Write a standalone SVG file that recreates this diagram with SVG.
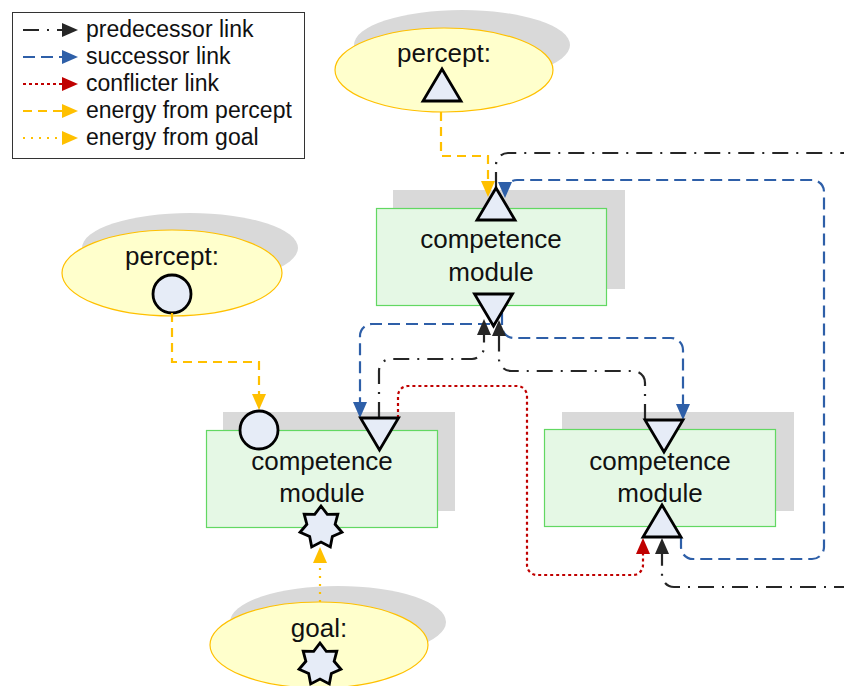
<svg xmlns="http://www.w3.org/2000/svg" width="844" height="686" viewBox="0 0 844 686">
  <style>
    .txt { font-family: "Liberation Sans", Arial, sans-serif; fill: #111; }
    .lg { font-size: 23px; }
    .nd { font-size: 26px; text-anchor: middle; }
    .shadow { fill: #d9d9d9; }
    .blob { fill: #ffffcc; stroke: #ffc000; stroke-width: 1.2; }
    .box { fill: #e5f8e5; stroke: #62d862; stroke-width: 1.2; }
    .port { fill: #e6ecf7; stroke: #000; stroke-width: 2.8; stroke-linejoin: miter; }
    .ln { fill: none; stroke-width: 2.2; }
    .pred { stroke: #262626; stroke-dasharray: 16 8 2 8; }
    .succ { stroke: #2e5fa8; stroke-dasharray: 12 6; }
    .conf { stroke: #c00000; stroke-dasharray: 3 3; }
    .energy { stroke: #ffc000; stroke-dasharray: 9 6; }
    .goal { stroke: #ffc000; stroke-dasharray: 2 6; }
  </style>
  <defs>
    <marker id="ah-black" markerUnits="userSpaceOnUse" markerWidth="16" markerHeight="14" viewBox="0 0 16 14" refX="12" refY="7" orient="auto">
      <path d="M0,0 L16,7 L0,14 Z" fill="#262626"/>
    </marker>
    <marker id="ah-blue" markerUnits="userSpaceOnUse" markerWidth="16" markerHeight="14" viewBox="0 0 16 14" refX="12" refY="7" orient="auto">
      <path d="M0,0 L16,7 L0,14 Z" fill="#2e5fa8"/>
    </marker>
    <marker id="ah-red" markerUnits="userSpaceOnUse" markerWidth="16" markerHeight="14" viewBox="0 0 16 14" refX="12" refY="7" orient="auto">
      <path d="M0,0 L16,7 L0,14 Z" fill="#c00000"/>
    </marker>
    <marker id="ah-orange" markerUnits="userSpaceOnUse" markerWidth="16" markerHeight="14" viewBox="0 0 16 14" refX="12" refY="7" orient="auto">
      <path d="M0,0 L16,7 L0,14 Z" fill="#ffc000"/>
    </marker>
    <!-- port glyphs: up triangle (origin at apex), down triangle (origin at base centre), 7-point star -->
    <path id="tri-up" d="M0,0 L19,32 L-19,32 Z"/>
    <path id="tri-down" d="M-19,0 L19,0 L0,32 Z"/>
    <path id="star7" d="M0,-21.5 L6.29,-13.06 L16.81,-13.41 L14.13,-3.22 L20.96,4.78 L11.33,9.04 L9.33,19.37 L0,14.5 L-9.33,19.37 L-11.33,9.04 L-20.96,4.78 L-14.13,-3.22 L-16.81,-13.41 L-6.29,-13.06 Z"/>
  </defs>

  <rect width="844" height="686" fill="#fff"/>

  <!-- legend -->
  <g id="legend">
    <rect x="12.5" y="12.5" width="292" height="146" fill="#fff" stroke="#333" stroke-width="1"/>
    <path class="ln pred" d="M23,30 H74" marker-end="url(#ah-black)"/>
    <path class="ln succ" d="M23,57 H74" marker-end="url(#ah-blue)"/>
    <path class="ln conf" d="M23,84 H74" marker-end="url(#ah-red)"/>
    <path class="ln energy" d="M23,111 H74" marker-end="url(#ah-orange)"/>
    <path class="ln goal" d="M23,138 H74" marker-end="url(#ah-orange)"/>
    <text class="txt lg" x="86" y="37">predecessor link</text>
    <text class="txt lg" x="86" y="64">successor link</text>
    <text class="txt lg" x="86" y="91">conflicter link</text>
    <text class="txt lg" x="86" y="118">energy from percept</text>
    <text class="txt lg" x="86" y="145">energy from goal</text>
  </g>

  <!-- environment nodes -->
  <g id="percept-top">
    <ellipse class="shadow" cx="462" cy="45" rx="108" ry="35"/>
    <ellipse class="blob" cx="444" cy="70" rx="109" ry="42"/>
    <text class="txt nd" x="444" y="62">percept:</text>
    <use href="#tri-up" class="port" x="442" y="69"/>
  </g>
  <g id="percept-left">
    <ellipse class="shadow" cx="190" cy="248" rx="108" ry="35"/>
    <ellipse class="blob" cx="172" cy="273" rx="110" ry="43"/>
    <text class="txt nd" x="172" y="265">percept:</text>
    <circle class="port" cx="172" cy="294" r="19"/>
  </g>
  <g id="goal">
    <ellipse class="shadow" cx="338" cy="622" rx="108" ry="36"/>
    <ellipse class="blob" cx="319" cy="645" rx="109" ry="43"/>
    <text class="txt nd" x="319" y="637">goal:</text>
    <use href="#star7" class="port" x="320" y="664.5"/>
  </g>

  <!-- competence modules -->
  <g id="module-top">
    <rect class="shadow" x="393" y="190" width="232" height="99"/>
    <rect class="box" x="376.5" y="208.5" width="230" height="97"/>
    <text class="txt nd" x="491" y="248">competence</text>
    <text class="txt nd" x="491" y="281">module</text>
  </g>
  <g id="module-left">
    <rect class="shadow" x="223" y="412" width="232" height="99"/>
    <rect class="box" x="206.5" y="430.5" width="231" height="97"/>
    <text class="txt nd" x="322" y="470">competence</text>
    <text class="txt nd" x="322" y="502">module</text>
  </g>
  <g id="module-right">
    <rect class="shadow" x="562" y="412" width="232" height="99"/>
    <rect class="box" x="544.5" y="429.5" width="231" height="97"/>
    <text class="txt nd" x="660" y="470">competence</text>
    <text class="txt nd" x="660" y="502">module</text>
  </g>

  <!-- links between modules and from the environment -->
  <g id="connectors">
    <path class="ln pred" d="M496,188 V165 A12,12 0 0 1 508,153 H850"/>
    <path class="ln pred" d="M850,587 H674 A12,12 0 0 1 662,575 V542" marker-end="url(#ah-black)"/>
    <path class="ln succ" d="M681,537 V547 A12,12 0 0 0 693,559 H812 A12,12 0 0 0 824,547 V192 A12,12 0 0 0 812,180 H517 A12,12 0 0 0 505,192 V194" marker-end="url(#ah-blue)"/>
    <path class="ln energy" d="M441,112 V156 H488 V193" marker-end="url(#ah-orange)"/>
    <path class="ln energy" d="M172,313 V362 H259 V406" marker-end="url(#ah-orange)"/>
    <path class="ln goal" d="M320,602 V551" marker-end="url(#ah-orange)"/>
    <path class="ln succ" d="M490,324 H372 A12,12 0 0 0 360,336 V414" marker-end="url(#ah-blue)"/>
    <path class="ln succ" d="M502,313 V326 A12,12 0 0 0 514,338 H671 A12,12 0 0 1 683,350 V416" marker-end="url(#ah-blue)"/>
    <path class="ln pred" d="M379,418 V371 A12,12 0 0 1 391,359 H472 A12,12 0 0 0 484,347 V323" marker-end="url(#ah-black)"/>
    <path class="ln pred" d="M645,420 V383 A12,12 0 0 0 633,371 H511 A12,12 0 0 1 499,359 V324" marker-end="url(#ah-black)"/>
    <path class="ln conf" d="M398,418 V396 A10,10 0 0 1 408,386 H517 A10,10 0 0 1 527,396 V565 A10,10 0 0 0 537,575 H633 A10,10 0 0 0 643,565 V542" marker-end="url(#ah-red)"/>
  </g>

  <!-- module ports, drawn above the link ends -->
  <g id="ports">
    <g id="module-top-in"><use href="#tri-up" class="port" x="496" y="188"/></g>
    <g id="module-top-out"><use href="#tri-down" class="port" x="493.5" y="294"/></g>
    <g id="module-left-percept"><circle class="port" cx="259" cy="430" r="19"/></g>
    <g id="module-left-out"><use href="#tri-down" class="port" x="379.5" y="418"/></g>
    <g id="module-left-goal"><use href="#star7" class="port" x="321" y="527.5"/></g>
    <g id="module-right-out"><use href="#tri-down" class="port" x="664" y="420"/></g>
    <g id="module-right-in"><use href="#tri-up" class="port" x="662" y="505"/></g>
  </g>
</svg>
